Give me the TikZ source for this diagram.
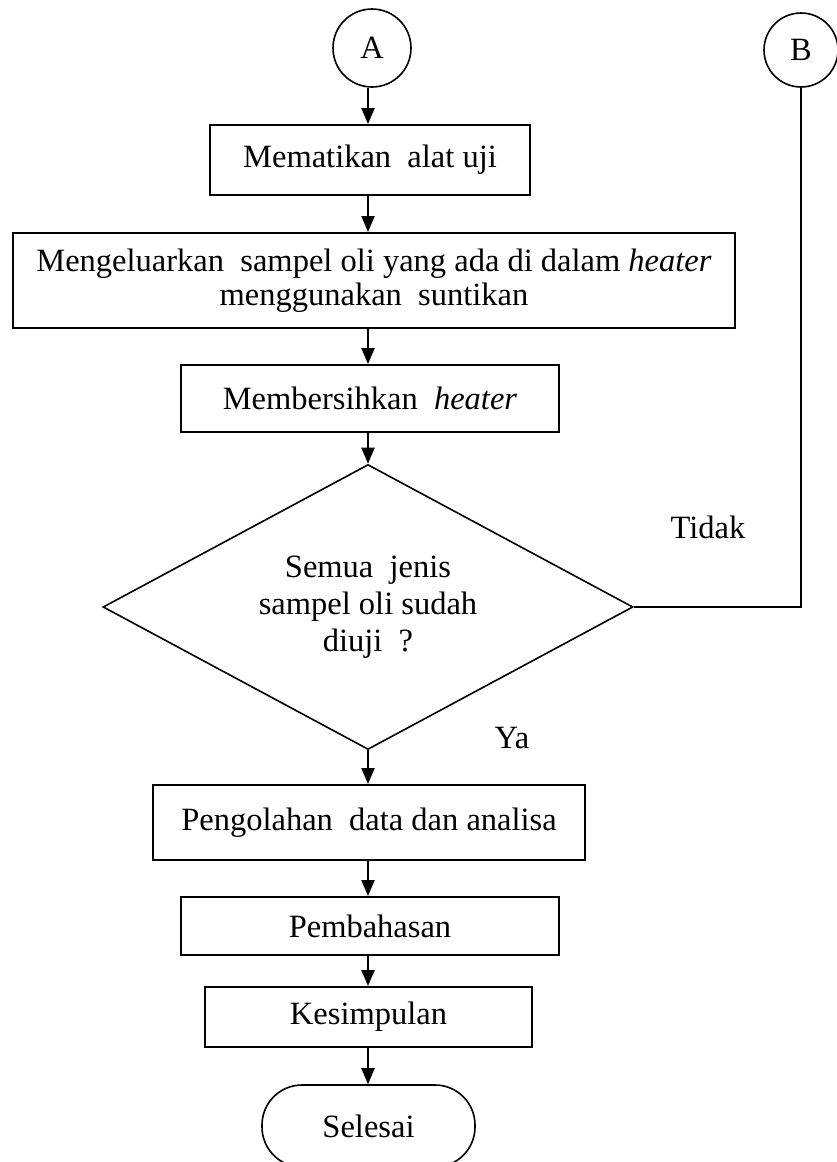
\documentclass[tikz,border=0pt]{standalone}
\usepackage{fontspec}
\setmainfont{Liberation Serif}
\usepackage{tikz}
\usetikzlibrary{arrows.meta,shapes.geometric}
\definecolor{garis}{HTML}{000000}
\newcommand{\TeksFont}{\fontsize{32.5}{34}\selectfont}

\begin{document}
\begin{tikzpicture}[x=1pt,y=-1pt,
    kotak/.style={draw=garis,line width=2pt,inner sep=0pt,align=center,font=\TeksFont},
    sambung/.style={draw=garis,circle,line width=1.6pt,inner sep=0pt,minimum size=78pt,font=\TeksFont},
    panah/.style={garis,line width=2pt,-{Triangle[width=13pt,length=16pt]}}]
          \useasboundingbox (0,0) rectangle (836,1162);
          \node[sambung] (A) at (372,48) {A};
          \node[sambung,minimum size=74pt] (B) at (801,50) {B};
          \node[kotak,minimum width=320pt,minimum height=70pt] (mati) at (370,160) {Mematikan\ \ alat uji};
          \node[kotak,minimum width=722pt,minimum height=95pt] (keluar) at (374,280.5)
            {Mengeluarkan\ \ sampel oli yang ada di dalam \textit{heater}\\menggunakan\ \ suntikan};
          \node[kotak,minimum width=378pt,minimum height=67pt] (bersih) at (370,398.5) {Membersihkan\ \ \textit{heater}};
          \node[kotak,diamond,line width=1.6pt,minimum width=530pt,minimum height=285pt] (cek) at (368,607) {};
          \node[font=\TeksFont,align=center] (tanya) at (cek) {Semua\ \ jenis\\[3pt]sampel oli sudah\\[3pt]diuji\ \ ?};
          \node[kotak,minimum width=432pt,minimum height=75pt] (olah) at (369,822.5) {Pengolahan\ \ data dan analisa};
          \node[kotak,minimum width=378pt,minimum height=58pt] (bahas) at (370,926) {Pembahasan};
          \node[kotak,minimum width=327pt,minimum height=60pt] (simpul) at (368.5,1017) {Kesimpulan};
          \node[kotak,line width=1.6pt,rounded corners=40pt,minimum width=213pt,minimum height=82pt] (selesai) at (368.5,1126) {Selesai};
          \node[font=\TeksFont] (tidak) at (708,527) {Tidak};
          \node[font=\TeksFont] (ya) at (512,738) {Ya};
          \foreach \a/\b in {A/mati,mati/keluar,keluar/bersih,bersih/cek,cek/olah,olah/bahas,bahas/simpul,simpul/selesai}
            \draw[panah] (\a.south -| cek.north) -- (\b.north -| cek.north);
          \draw[garis,line width=2pt] (B.south) |- (cek.east);
        \end{tikzpicture}
\end{document}
